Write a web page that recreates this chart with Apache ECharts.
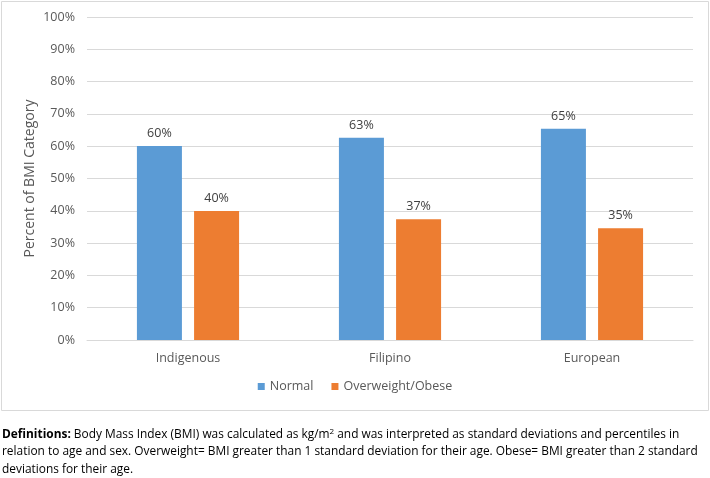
<!DOCTYPE html>
<html><head><meta charset="utf-8">
<script src="https://cdn.jsdelivr.net/npm/echarts@6/dist/echarts.min.js"></script>
<style>html,body{margin:0;padding:0;background:#fff}#c{width:710px;height:478px}</style>
</head><body><div id="c"></div>
<script>
const categories = ['Indigenous', 'Filipino', 'European'];
const normal = [60.1, 62.6, 65.4];
const overweight = [39.9, 37.4, 34.6];
const seriesNames = ['Normal', 'Overweight/Obese'];
const yAxisName = 'Percent of BMI Category';
const noteLines = [
  ['{b|Definitions:} Body Mass Index (BMI) was calculated as kg/m{sup|2} and was interpreted as standard deviations and percentiles in'],
  ['relation to age and sex. Overweight= BMI greater than 1 standard deviation for their age. Obese= BMI greater than 2 standard'],
  ['deviations for their age.']
];
const FONT = "'Open Sans', 'Noto Sans', sans-serif";
const NOTEFONT = "'Open Sans', 'Noto Sans', sans-serif";
const NOTESIZE = 11.9;
const chart = echarts.init(document.getElementById('c'));
const lbl = {show: true, position: 'top', distance: 6, color: '#404040', fontSize: 12.5, fontFamily: FONT,
  formatter: p => Math.round(p.value) + '%'};
chart.setOption({
  animation: false,
  textStyle: {fontFamily: FONT},
  grid: {left: 87, right: 17, top: 17, bottom: 138},
  legend: {data: seriesNames, bottom: 80, left: 'center', itemWidth: 7, itemHeight: 7, itemGap: 18,
    icon: 'rect', textStyle: {color: '#595959', fontSize: 12.5, fontFamily: FONT}},
  xAxis: {type: 'category', data: categories,
    axisLine: {lineStyle: {color: '#D9D9D9'}}, axisTick: {show: false},
    axisLabel: {color: '#595959', fontSize: 12.5, margin: 12}},
  yAxis: {type: 'value', min: 0, max: 100, interval: 10,
    name: yAxisName, nameLocation: 'middle', nameGap: 50, nameRotate: 90, nameMoveOverlap: false,
    nameTextStyle: {color: '#595959', fontSize: 14},
    axisLabel: {color: '#595959', fontSize: 12.5, margin: 12, formatter: '{value}%'},
    splitLine: {lineStyle: {color: '#D9D9D9'}}, axisLine: {show: false}, axisTick: {show: false}},
  series: [
    {name: seriesNames[0], type: 'bar', data: normal, barWidth: 45, barGap: '27%',
      itemStyle: {color: '#5B9BD5'}, label: lbl},
    {name: seriesNames[1], type: 'bar', data: overweight, barWidth: 45, barGap: '27%',
      itemStyle: {color: '#ED7D31'}, label: lbl}
  ],
  graphic: [
    {type: 'rect', shape: {x: 1.5, y: 1.5, width: 707, height: 409}, style: {fill: 'none', stroke: '#D9D9D9', lineWidth: 1}, silent: true},
  ].concat(noteLines.map((l, i) => ({
    type: 'text', left: 2, top: 428 + i * 18,
    style: {text: l[0], fill: '#000', fontSize: NOTESIZE, fontFamily: NOTEFONT,
      rich: {b: {fontWeight: 'bold', fontSize: NOTESIZE, fontFamily: NOTEFONT, fill: '#000'},
             sup: {fontSize: 8, fontFamily: NOTEFONT, fill: '#000', verticalAlign: 'top', padding: [0,0,6,0]}}}
  })))
});
</script></body></html>
